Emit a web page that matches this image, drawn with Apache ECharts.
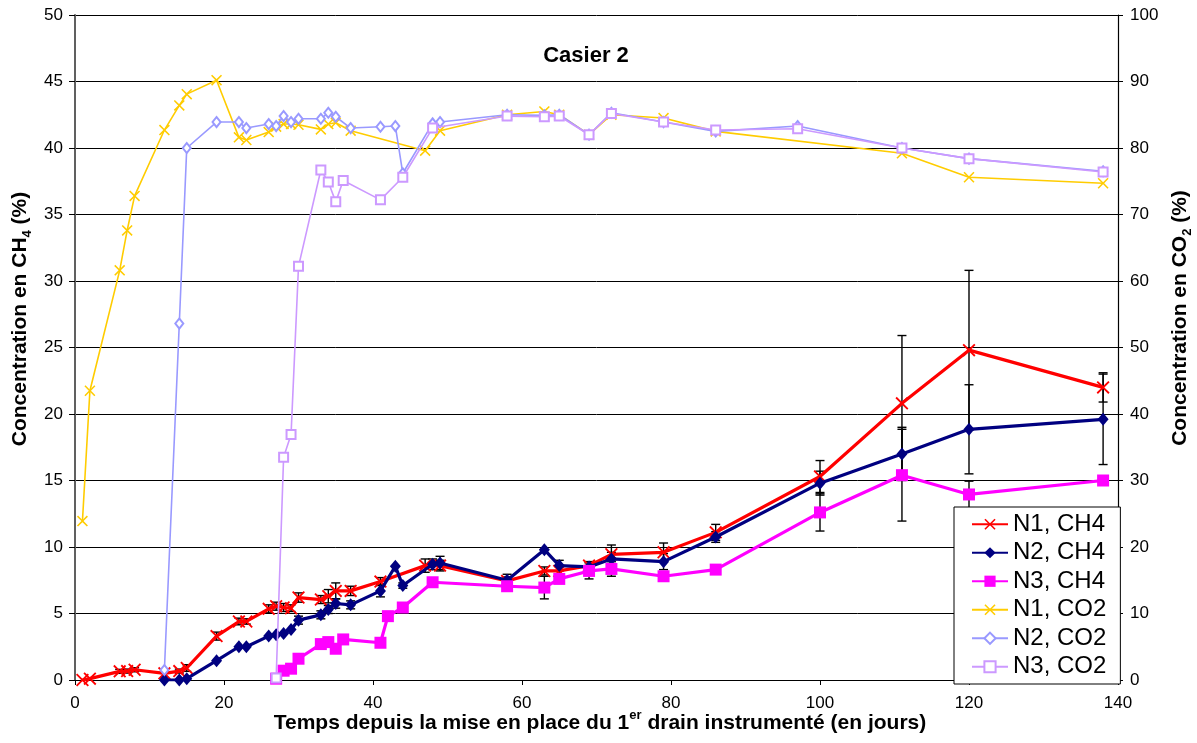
<!DOCTYPE html>
<html>
<head>
<meta charset="utf-8">
<script src="https://cdn.jsdelivr.net/npm/echarts@6/dist/echarts.min.js"></script>
<style>
  html, body { margin: 0; padding: 0; background: #fff; }
  #chart { width: 1197px; height: 743px; }
</style>
</head>
<body>
<div id="chart"></div>
<script>
// Casier 2 : concentrations de CH4 (axe gauche) et de CO2 (axe droit) aux points N1, N2, N3
const xTicks = [0, 20, 40, 60, 80, 100, 120, 140];
const ch4Ticks = [0, 5, 10, 15, 20, 25, 30, 35, 40, 45, 50];
const co2Ticks = [0, 10, 20, 30, 40, 50, 60, 70, 80, 90, 100];

const n1Ch4Days = [1, 2, 6, 7, 8, 12, 14, 15, 19, 22, 23, 26, 27, 28, 29, 30, 33, 34, 35, 37, 41, 47, 49, 58, 63, 65, 69, 72, 79, 86, 100, 111, 120, 138];
const n1Ch4 = [0, 0.1, 0.65, 0.67, 0.77, 0.5, 0.67, 0.9, 3.3, 4.4, 4.4, 5.35, 5.55, 5.45, 5.4, 6.2, 6.05, 6.3, 6.7, 6.7, 7.4, 8.6, 8.6, 7.45, 8.2, 8.2, 8.6, 9.45, 9.6, 11.1, 15.3, 20.8, 24.8, 22.0];
const n1Ch4Err = [0, 0, 0.15, 0.15, 0.15, 0, 0.15, 0.25, 0.3, 0.25, 0.2, 0.3, 0.3, 0.3, 0.25, 0.35, 0.3, 0.5, 0.6, 0.35, 0.3, 0.5, 0.4, 0.3, 0.3, 0.3, 0.3, 0.7, 0.7, 0.6, 1.2, 5.1, 6.0, 1.1];

const n2Ch4Days = [12, 14, 15, 19, 22, 23, 26, 27, 28, 29, 30, 33, 34, 35, 37, 41, 43, 44, 48, 49, 58, 63, 65, 69, 72, 79, 86, 100, 111, 120, 138];
const n2Ch4 = [0, 0, 0.1, 1.45, 2.5, 2.5, 3.3, 3.4, 3.5, 3.8, 4.5, 4.9, 5.3, 5.75, 5.65, 6.7, 8.55, 7.1, 8.7, 8.8, 7.5, 9.8, 8.6, 8.5, 9.1, 8.9, 10.75, 14.8, 17.0, 18.85, 19.6];
const n2Ch4Err = [0, 0, 0, 0, 0, 0, 0, 0, 0, 0, 0.3, 0.3, 0.3, 0.35, 0.3, 0.45, 0, 0.2, 0.4, 0.5, 0.45, 0, 0.4, 0.4, 0.5, 0.6, 0.4, 0.9, 2.0, 3.35, 3.4];

const n3Ch4Days = [27, 28, 29, 30, 33, 34, 35, 36, 41, 42, 44, 48, 58, 63, 65, 69, 72, 79, 86, 100, 111, 120, 138];
const n3Ch4 = [0.1, 0.7, 0.85, 1.6, 2.7, 2.85, 2.35, 3.05, 2.8, 4.8, 5.45, 7.35, 7.05, 6.95, 7.6, 8.2, 8.35, 7.8, 8.3, 12.6, 15.4, 13.95, 15.0];
const n3Ch4Err = [0, 0, 0, 0, 0, 0, 0, 0, 0, 0, 0, 0, 0, 0.85, 0, 0.6, 0.55, 0, 0, 1.4, 3.45, 1.0, 0];

const n1Co2Days = [1, 2, 6, 7, 8, 12, 14, 15, 19, 22, 23, 26, 27, 28, 29, 30, 33, 34, 35, 37, 47, 49, 58, 63, 65, 69, 72, 79, 86, 111, 120, 138];
const n1Co2 = [23.9, 43.5, 61.6, 67.6, 72.8, 82.7, 86.4, 88.1, 90.2, 81.6, 81.2, 82.4, 83.2, 83.6, 83.6, 83.5, 82.8, 83.6, 83.8, 82.6, 79.6, 82.6, 85.0, 85.5, 85.0, 82.0, 85.0, 84.5, 82.5, 79.2, 75.6, 74.7];

const n2Co2Days = [12, 14, 15, 19, 22, 23, 26, 27, 28, 29, 30, 33, 34, 35, 37, 41, 43, 44, 48, 49, 58, 63, 65, 69, 72, 79, 86, 97, 111, 120, 138];
const n2Co2 = [1.5, 53.6, 80.0, 83.9, 83.9, 83.0, 83.6, 83.3, 84.8, 83.9, 84.4, 84.4, 85.3, 84.7, 83.0, 83.2, 83.3, 76.2, 83.7, 83.9, 85.0, 84.9, 85.0, 82.0, 85.3, 83.9, 82.5, 83.3, 80.0, 78.4, 76.5];

const n3Co2Days = [27, 28, 29, 30, 33, 34, 35, 36, 41, 44, 48, 58, 63, 65, 69, 72, 79, 86, 97, 111, 120, 138];
const n3Co2 = [0.3, 33.5, 36.9, 62.2, 76.7, 74.9, 71.9, 75.1, 72.2, 75.6, 83.0, 84.8, 84.7, 84.8, 82.0, 85.2, 83.9, 82.7, 82.9, 80.0, 78.4, 76.4];

const FONT = '"Liberation Sans", Arial, sans-serif';
const CROSS = 'path://M0,1L1,0L5,4L9,0L10,1L6,5L10,9L9,10L5,6L1,10L0,9L4,5Z';

const pairs = (xs, ys) => xs.map((d, i) => [d, ys[i]]);
const errData = (xs, ys, es) => xs.map((d, i) => [d, ys[i] - es[i], ys[i] + es[i]]).filter((p, i) => es[i] > 0);

// barre d'erreur verticale avec petites traverses aux extrémités
function renderErrorBar(params, api) {
  const x = api.value(0);
  const top = api.coord([x, api.value(2)]);
  const bot = api.coord([x, api.value(1)]);
  const w = 4.5;
  const st = { stroke: '#000', lineWidth: 1.4 };
  return {
    type: 'group',
    children: [
      { type: 'line', shape: { x1: top[0], y1: top[1], x2: bot[0], y2: bot[1] }, style: st },
      { type: 'line', shape: { x1: top[0] - w, y1: top[1], x2: top[0] + w, y2: top[1] }, style: st },
      { type: 'line', shape: { x1: bot[0] - w, y1: bot[1], x2: bot[0] + w, y2: bot[1] }, style: st }
    ]
  };
}

function errSeries(xs, ys, es) {
  return {
    type: 'custom', yAxisIndex: 0, silent: true, z: 3,
    renderItem: renderErrorBar,
    encode: { x: 0, y: [1, 2] },
    data: errData(xs, ys, es)
  };
}

function lineSeries(name, xs, ys, axis, color, width, symbol, size, z) {
  return {
    name, type: 'line', yAxisIndex: axis, z,
    data: pairs(xs, ys),
    symbol, symbolSize: size, showSymbol: true,
    lineStyle: { color, width },
    itemStyle: { color, borderColor: color, borderWidth: symbol.startsWith('empty') ? 1.3 : 0 },
    emphasis: { disabled: true },
    animation: false
  };
}

const chart = echarts.init(document.getElementById('chart'), null, { renderer: 'canvas' });

const labelStyle = { color: '#000', fontSize: 17, fontFamily: FONT };

chart.setOption({
  animation: false,
  backgroundColor: '#fff',
  grid: { left: 75, right: 79, top: 15, bottom: 63, containLabel: false },
  xAxis: {
    type: 'value', min: xTicks[0], max: xTicks[xTicks.length - 1], interval: 20,
    axisLine: { show: true, lineStyle: { color: '#000', width: 1.2 } },
    axisTick: { show: true, inside: false, length: 5, lineStyle: { color: '#000' } },
    axisLabel: Object.assign({ margin: 15 }, labelStyle),
    splitLine: { show: false }
  },
  yAxis: [
    {
      type: 'value', min: ch4Ticks[0], max: ch4Ticks[ch4Ticks.length - 1], interval: 5,
      position: 'left',
      axisLine: { show: true, lineStyle: { color: '#606060', width: 2 } },
      axisTick: { show: true, inside: false, length: 6, lineStyle: { color: '#000' } },
      axisLabel: Object.assign({ margin: 12 }, labelStyle),
      splitLine: { show: true, lineStyle: { color: '#000', width: 1 } }
    },
    {
      type: 'value', min: co2Ticks[0], max: co2Ticks[co2Ticks.length - 1], interval: 10,
      position: 'right',
      axisLine: { show: true, lineStyle: { color: '#000', width: 1.2 } },
      axisTick: { show: true, inside: false, length: 5, lineStyle: { color: '#000' } },
      axisLabel: Object.assign({ margin: 12 }, labelStyle),
      splitLine: { show: false }
    }
  ],
  legend: {
    orient: 'vertical',
    left: 954, top: 507,
    data: ['N1, CH4', 'N2, CH4', 'N3, CH4', 'N1, CO2', 'N2, CO2', 'N3, CO2'],
    itemWidth: 36, itemHeight: 14, itemGap: 4,
    padding: [5, 14, 5, 17],
    backgroundColor: '#fff', borderColor: '#000', borderWidth: 1,
    textStyle: { color: '#000', fontSize: 24, fontFamily: FONT, lineHeight: 24.5, padding: [0, 0, 0, 0] },
    selectedMode: false
  },
  graphic: [
    {
      type: 'text', x: 586, y: 56,
      style: { text: 'Casier 2', font: 'bold 22px ' + FONT, fill: '#000', align: 'center', verticalAlign: 'middle' }
    },
    {
      type: 'text', x: 600, y: 723,
      style: {
        text: 'Temps depuis la mise en place du 1{sup|er} drain instrumenté (en jours)',
        fontSize: 21, fontWeight: 'bold', fontFamily: FONT, fill: '#000',
        align: 'center', verticalAlign: 'middle', lineHeight: 28,
        rich: { sup: { fontSize: 13, fontWeight: 'bold', fontFamily: FONT, fill: '#000', verticalAlign: 'top', lineHeight: 28 } }
      }
    },
    {
      type: 'text', x: 20, y: 319, rotation: Math.PI / 2,
      style: {
        text: 'Concentration en CH{sub|4} (%)',
        fontSize: 21, fontWeight: 'bold', fontFamily: FONT, fill: '#000',
        align: 'center', verticalAlign: 'middle', lineHeight: 28,
        rich: { sub: { fontSize: 13, fontWeight: 'bold', fontFamily: FONT, fill: '#000', verticalAlign: 'bottom', lineHeight: 28 } }
      }
    },
    {
      type: 'text', x: 1180, y: 318, rotation: Math.PI / 2,
      style: {
        text: 'Concentration en CO{sub|2} (%)',
        fontSize: 21, fontWeight: 'bold', fontFamily: FONT, fill: '#000',
        align: 'center', verticalAlign: 'middle', lineHeight: 28,
        rich: { sub: { fontSize: 13, fontWeight: 'bold', fontFamily: FONT, fill: '#000', verticalAlign: 'bottom', lineHeight: 28 } }
      }
    }
  ],
  series: [
    errSeries(n1Ch4Days, n1Ch4, n1Ch4Err),
    errSeries(n2Ch4Days, n2Ch4, n2Ch4Err),
    errSeries(n3Ch4Days, n3Ch4, n3Ch4Err),
    lineSeries('N1, CH4', n1Ch4Days, n1Ch4, 0, '#FF0000', 3.2, CROSS, 13, 4),
    lineSeries('N2, CH4', n2Ch4Days, n2Ch4, 0, '#000080', 3.2, 'diamond', [11, 13], 5),
    lineSeries('N3, CH4', n3Ch4Days, n3Ch4, 0, '#FF00FF', 3.2, 'rect', 12, 6),
    lineSeries('N1, CO2', n1Co2Days, n1Co2, 1, '#FFCC00', 1.6, CROSS, 11, 7),
    lineSeries('N2, CO2', n2Co2Days, n2Co2, 1, '#9999FF', 1.6, 'emptyDiamond', [8, 10], 8),
    lineSeries('N3, CO2', n3Co2Days, n3Co2, 1, '#CC99FF', 1.6, 'emptyRect', 9, 9)
  ]
});
</script>
</body>
</html>
